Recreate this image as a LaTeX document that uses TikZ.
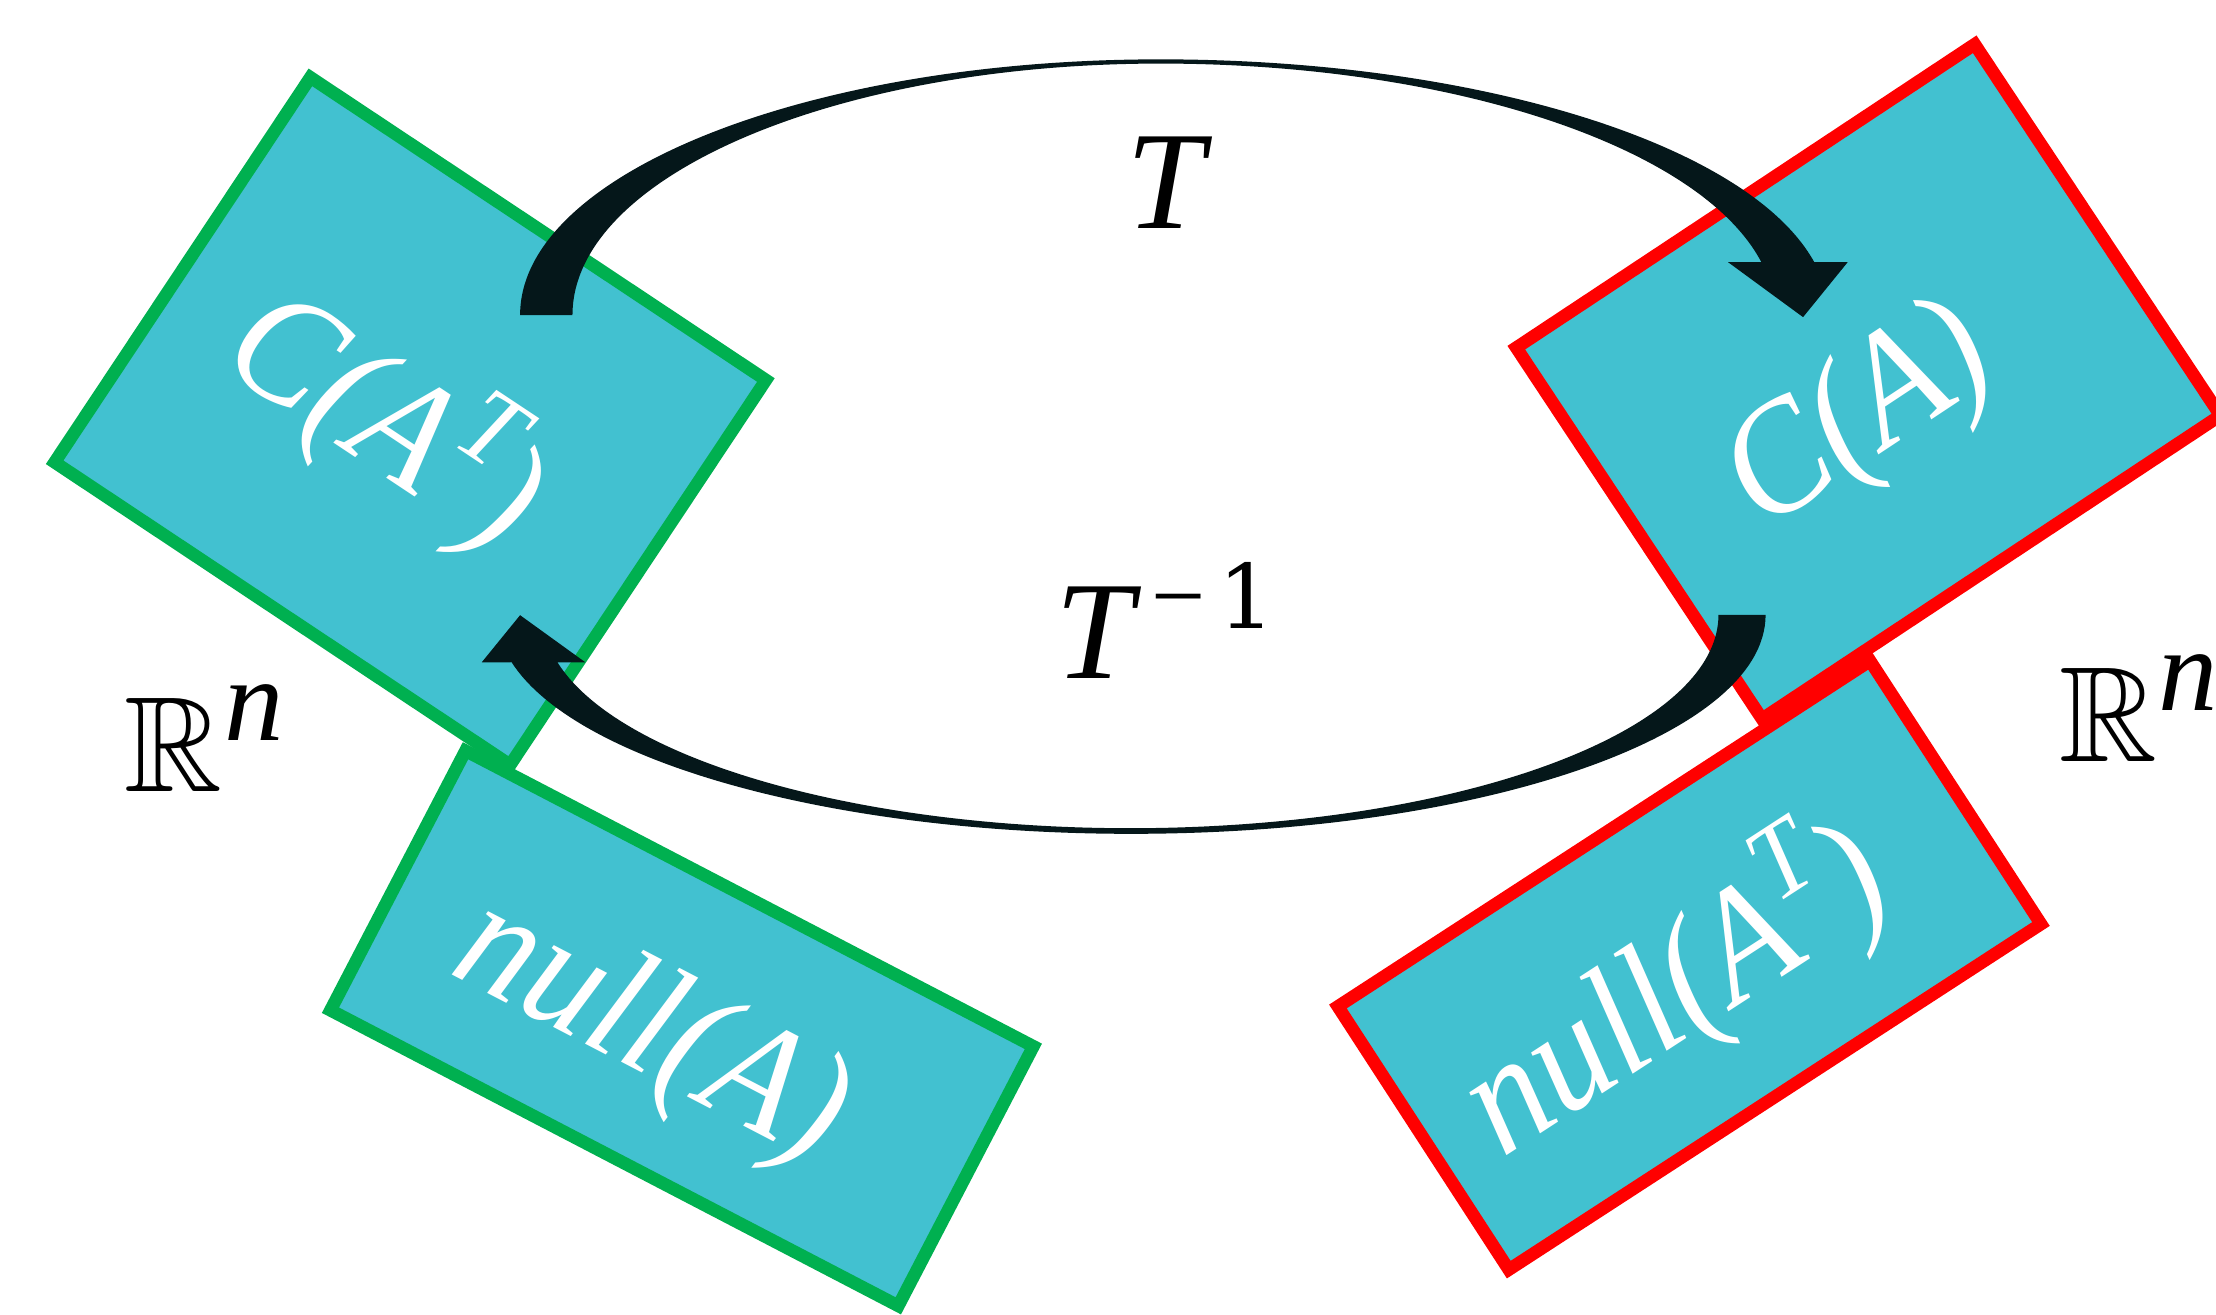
\documentclass[tikz,border=0pt]{standalone}
\usepackage{fontspec}
\setmainfont{Liberation Serif}
\newfontfamily\digitfont{DejaVu Serif}
\usepackage{amssymb}
\definecolor{panelc}{HTML}{42C1D0}
\definecolor{greenc}{HTML}{00B050}
\definecolor{redc}{HTML}{FF0000}
\definecolor{arrowc}{HTML}{05171A}
\newcommand{\bbR}{{\usefont{U}{msb}{m}{n}R}}
\begin{document}
\begin{tikzpicture}[x=1pt,y=1pt,
  panel/.style={rectangle, fill=panelc, line width=9pt, inner sep=0pt, line join=miter},
  gbox/.style={panel, draw=greenc},
  rbox/.style={panel, draw=redc},
  wlabel/.style={text=white, inner sep=0pt, font=\fontsize{104}{104}\selectfont\itshape},
  blabel/.style={text=black, inner sep=0pt, anchor=base west},
  curvearrow/.style={fill=arrowc, draw=none}]
\path[use as bounding box, fill=white] (0,0) rectangle (1568,930);

% panels
\node[gbox, minimum width=387pt, minimum height=327pt, rotate=-33.6] (cat) at (290.3,632) {};
\node[rbox, minimum width=389pt, minimum height=315pt, rotate=33.5] (ca) at (1322,660) {};
\node[gbox, minimum width=453pt, minimum height=207pt, rotate=-27.5] (na) at (482.5,202.4) {};
\node[rbox, minimum width=449pt, minimum height=222pt, rotate=33] (nat) at (1195.4,247) {};

% panel labels
\node[wlabel, rotate=-33.6, yscale=1.08] (tcat) at (274,634) {C(A\raisebox{42pt}{\fontsize{70}{70}\selectfont T})};
\node[wlabel, rotate=33.5, yscale=1.08] (tca) at (1317,632) {C(A)};
\node[wlabel, rotate=-27.5, yscale=1.08] (tna) at (460,198) {null(A)};
\node[wlabel, rotate=33, yscale=1.08] (tnat) at (1184,231) {null(A\raisebox{42pt}{\fontsize{70}{70}\selectfont T})};

% curved arrow T (from C(A^T) to C(A))
\fill[curvearrow] (368,707)
  arc[start angle=180, end angle=90, x radius=453, y radius=181]
  arc[start angle=90, end angle=11.96, x radius=473, y radius=181]
  -- (1307.4,744.5) -- (1275.8,705.6) -- (1222.7,744.5) -- (1246.3,744.5)
  arc[start angle=12.16, end angle=90, x radius=435, y radius=178]
  arc[start angle=90, end angle=180, x radius=416, y radius=178]
  -- cycle;

% curved arrow T^{-1} (from C(A) back to C(A^T))
\fill[curvearrow] (1249.3,495)
  arc[start angle=0, end angle=-167.48, x radius=449, y radius=155]
  -- (340.9,461.4) -- (368,494.7) -- (414.1,461.4) -- (394.4,461.4)
  arc[start angle=-167.14, end angle=0, x radius=416, y radius=151]
  -- cycle;

% arrow labels
\node[blabel] (tlab) at (797,768.5) {\fontsize{99}{99}\selectfont\itshape T};
\node[blabel] (tinvlab) at (746.4,450) {\fontsize{99}{99}\selectfont\itshape T\upshape\kern13pt\raisebox{35.4pt}{\fontsize{68}{68}\selectfont\char"2212\kern9pt{\digitfont\fontsize{63}{63}\selectfont 1}}};

% spaces
\node[blabel] (rnl) at (88,370) {\fontsize{96}{96}\selectfont\bbR\kern1pt\raisebox{36pt}{\fontsize{84}{84}\selectfont\itshape n}};
\node[blabel] (rnr) at (1457,391) {\fontsize{96}{96}\selectfont\bbR\kern1pt\raisebox{36pt}{\fontsize{84}{84}\selectfont\itshape n}};
\end{tikzpicture}
\end{document}
